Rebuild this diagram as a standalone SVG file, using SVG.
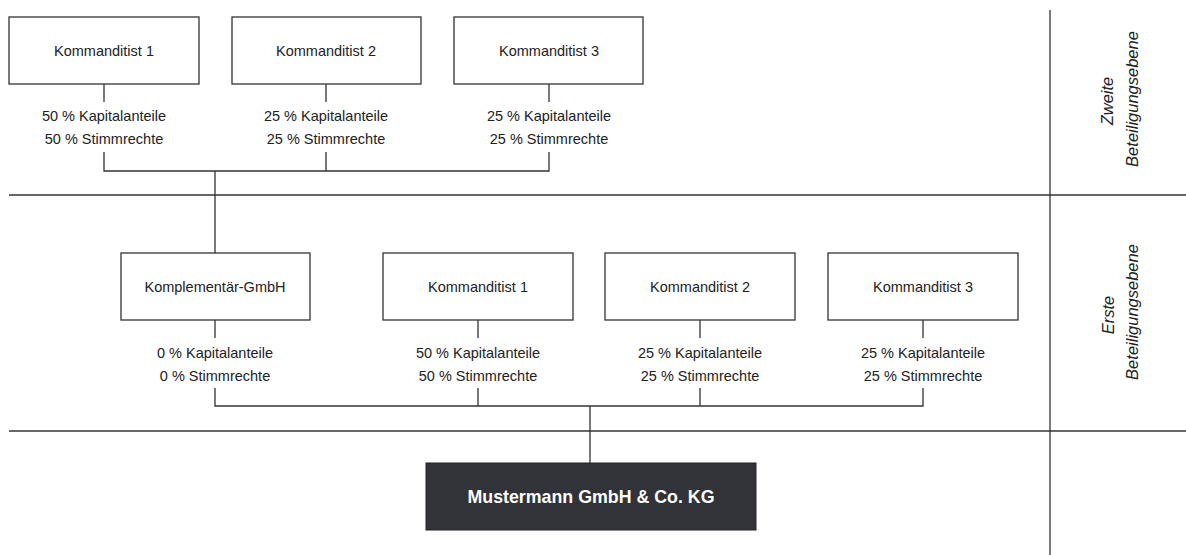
<svg xmlns="http://www.w3.org/2000/svg" width="1186" height="555" viewBox="0 0 1186 555">
<style>
.box{fill:#fff;stroke:#333;stroke-width:1.3}
.ln{fill:none;stroke:#333;stroke-width:1.3}
.lbl{font-family:"Liberation Sans",Arial,sans-serif;font-size:14.5px;fill:#222;text-anchor:middle}
.side{font-family:"Liberation Sans",Arial,sans-serif;font-size:16.5px;font-style:italic;fill:#222;text-anchor:middle}
.main{font-family:"Liberation Sans",Arial,sans-serif;font-size:17.8px;font-weight:bold;fill:#fff;text-anchor:middle}
</style>
<rect width="1186" height="555" fill="#fff"/>
<g id="connectors">
<line class="ln" x1="9" y1="195" x2="1186" y2="195"/>
<line class="ln" x1="9" y1="431" x2="1186" y2="431"/>
<line class="ln" x1="1050" y1="10" x2="1050" y2="555" stroke="#111"/>
<path class="ln" d="M104 84V102M326 84V102M549 84V102"/>
<path class="ln" d="M104 152V171H549V152M326 152V171M215 171V253"/>
<path class="ln" d="M215 320V338M478 320V338M700 320V338M923 320V338"/>
<path class="ln" d="M215 388V406H923V388M478 388V406M700 388V406M590 406V463"/>
</g>
<g id="n-k1-top">
<rect class="box" x="9" y="17" width="190" height="67"/>
<text class="lbl" x="104" y="56">Kommanditist 1</text>
<text class="lbl" x="104" y="121">50 % Kapitalanteile</text>
<text class="lbl" x="104" y="144">50 % Stimmrechte</text>
</g>
<g id="n-k2-top">
<rect class="box" x="232" y="17" width="189" height="67"/>
<text class="lbl" x="326" y="56">Kommanditist 2</text>
<text class="lbl" x="326" y="121">25 % Kapitalanteile</text>
<text class="lbl" x="326" y="144">25 % Stimmrechte</text>
</g>
<g id="n-k3-top">
<rect class="box" x="454" y="17" width="189" height="67"/>
<text class="lbl" x="549" y="56">Kommanditist 3</text>
<text class="lbl" x="549" y="121">25 % Kapitalanteile</text>
<text class="lbl" x="549" y="144">25 % Stimmrechte</text>
</g>
<g id="n-kompl">
<rect class="box" x="121" y="253" width="189" height="67"/>
<text class="lbl" x="215" y="292">Komplementär-GmbH</text>
<text class="lbl" x="215" y="358">0 % Kapitalanteile</text>
<text class="lbl" x="215" y="381">0 % Stimmrechte</text>
</g>
<g id="n-k1">
<rect class="box" x="383" y="253" width="190" height="67"/>
<text class="lbl" x="478" y="292">Kommanditist 1</text>
<text class="lbl" x="478" y="358">50 % Kapitalanteile</text>
<text class="lbl" x="478" y="381">50 % Stimmrechte</text>
</g>
<g id="n-k2">
<rect class="box" x="605" y="253" width="190" height="67"/>
<text class="lbl" x="700" y="292">Kommanditist 2</text>
<text class="lbl" x="700" y="358">25 % Kapitalanteile</text>
<text class="lbl" x="700" y="381">25 % Stimmrechte</text>
</g>
<g id="n-k3">
<rect class="box" x="828" y="253" width="190" height="67"/>
<text class="lbl" x="923" y="292">Kommanditist 3</text>
<text class="lbl" x="923" y="358">25 % Kapitalanteile</text>
<text class="lbl" x="923" y="381">25 % Stimmrechte</text>
</g>
<g id="n-main">
<rect x="426" y="463" width="330" height="67" fill="#323338" stroke="#222" stroke-width="1"/>
<text class="main" x="591" y="503">Mustermann GmbH &amp; Co. KG</text>
</g>
<g id="side-labels">
<text class="side" transform="translate(1113 101) rotate(-90)">Zweite</text>
<text class="side" transform="translate(1138 99) rotate(-90)">Beteiligungsebene</text>
<text class="side" transform="translate(1114 315) rotate(-90)">Erste</text>
<text class="side" transform="translate(1138 312) rotate(-90)">Beteiligungsebene</text>
</g>
</svg>
